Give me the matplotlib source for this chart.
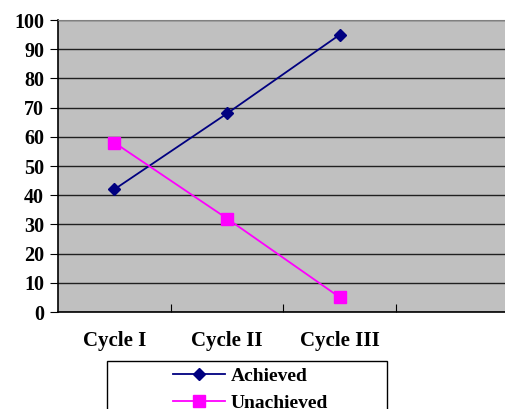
import matplotlib.pyplot as plt
from matplotlib.patches import Rectangle

plt.rcParams['font.family'] = 'Liberation Serif'
plt.rcParams['font.weight'] = 'bold'

cycles = ['Cycle I', 'Cycle II', 'Cycle III']
achieved = [42, 68, 95]
unachieved = [58, 32, 5]
y_ticks = list(range(0, 101, 10))

fig = plt.figure(figsize=(5.06, 4.09), dpi=100)
ax = fig.add_axes([58 / 506, 1 - 312 / 409, 451 / 506, 292 / 409])
ax.set_facecolor('#C0C0C0')

x = [0.5, 1.5, 2.5]
ax.plot(x, achieved, color='#000080', lw=1.3, marker='D', ms=6.5, label='Achieved', zorder=3)
ax.plot(x, unachieved, color='#FF00FF', lw=1.3, marker='s', ms=8.5, label='Unachieved', zorder=3)

ax.set_xlim(0, 4)
ax.set_ylim(0, 100)
ax.set_yticks(y_ticks)
ax.set_yticklabels([str(v) for v in y_ticks], fontsize=14.5, fontweight='bold')
ax.yaxis.grid(True, color='#202020', lw=1)
ax.set_axisbelow(True)

ax.set_xticks([1, 2, 3])
ax.set_xticklabels([])
ax.set_xticks(x, minor=True)
ax.set_xticklabels(cycles, minor=True, fontsize=15, fontweight='bold')
ax.tick_params(axis='x', which='major', direction='in', length=6, color='black')
ax.tick_params(axis='x', which='minor', length=0, pad=14)
ax.tick_params(axis='y', direction='out', length=6, pad=4)

ax.spines['right'].set_visible(False)
ax.spines['top'].set_color('#808080')
ax.spines['left'].set_color('black')
ax.spines['bottom'].set_color('black')
ax.spines['left'].set_linewidth(1.2)
ax.spines['bottom'].set_linewidth(1.2)

fig.patches.append(Rectangle((107 / 506, -0.1), 280 / 506, 0.1 + 1 - 361 / 409,
                             transform=fig.transFigure, fill=False,
                             edgecolor='black', lw=1))
fig.legend(loc='upper left', bbox_to_anchor=(160 / 506, 1 - 355 / 409),
           frameon=False, handlelength=2.7, handletextpad=0.3,
           labelspacing=0.45, borderpad=0.15, prop={'weight': 'bold', 'size': 14})

fig.savefig('out.png', dpi=100)
